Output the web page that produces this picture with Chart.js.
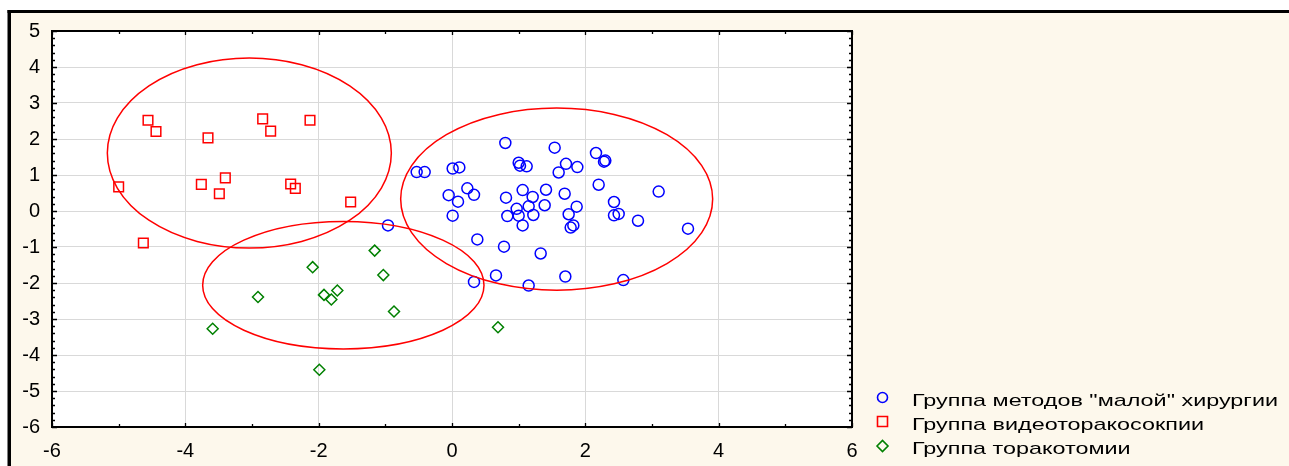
<!DOCTYPE html>
<html>
<head>
<meta charset="utf-8">
<script src="https://cdn.jsdelivr.net/npm/chart.js@4.4.0/dist/chart.umd.min.js"></script>
<style>
    html, body { margin: 0; padding: 0; background: #fff; }
    #wrap { width: 1289px; height: 466px; }
</style>
</head>
<body>
<div id="wrap"><canvas id="scatterChart" width="1289" height="466"></canvas></div>
<script>
// Group names (legend)
const groupNames = [
    'Группа методов "малой" хирургии',
    'Группа видеоторакосокпии',
    'Группа торакотомии'
];

// "малой" хирургии - circles
const blueX = [-0.53, -0.41, 0.01, 0.11, 0.80, 1.00, 1.02, 1.12, 1.54, 1.71, 1.88, 1.60, 2.16, 2.28, 2.30,
    0.23, -0.05, 0.33, 0.09, 0.01, 1.06, 1.41, 1.69, 2.20, 3.10, 0.81, 1.21, 1.15, 1.39, 0.97, 1.87, 2.43,
    0.83, 1.00, 1.22, 1.75, 1.06, 1.82, 1.78, 2.43, 2.50, 2.79, 3.54, -0.96, 0.38, 0.78, 1.33, 0.66, 1.70,
    0.33, 1.15, 2.57];
const blueY = [1.08, 1.08, 1.18, 1.21, 1.89, 1.34, 1.26, 1.24, 1.76, 1.31, 1.22, 1.07, 1.61, 1.37, 1.40,
    0.63, 0.44, 0.45, 0.26, -0.13, 0.58, 0.59, 0.48, 0.73, 0.54, 0.37, 0.39, 0.13, 0.16, 0.06, 0.12, 0.25,
    -0.14, -0.13, -0.11, -0.09, -0.40, -0.40, -0.46, -0.12, -0.08, -0.27, -0.49, -0.40, -0.79, -0.99, -1.18,
    -1.79, -1.82, -1.97, -2.07, -1.92];

// видеоторакоскопии - squares
const redX = [-4.56, -4.44, -3.66, -2.84, -2.72, -2.13, -5.00, -3.76, -3.40, -3.49, -2.42, -2.35, -1.52, -4.63];
const redY = [2.52, 2.21, 2.03, 2.56, 2.22, 2.52, 0.67, 0.74, 0.92, 0.48, 0.75, 0.63, 0.25, -0.89];

// торакотомии - diamonds
const greenX = [-1.16, -2.09, -1.03, -2.91, -1.92, -1.72, -1.81, -0.87, -3.59, -1.99, 0.69];
const greenY = [-1.10, -1.56, -1.78, -2.39, -2.33, -2.21, -2.46, -2.79, -3.27, -4.41, -3.23];

// confidence ellipses (blue, red, green group)
const ellipseCX = [1.57, -3.04, -1.63];
const ellipseCY = [0.33, 1.61, -2.06];
const ellipseRX = [2.34, 2.13, 2.11];
const ellipseRY = [2.53, 2.64, 1.77];

// axis ticks
const xTicks = [-6, -4, -2, 0, 2, 4, 6];
const yTicks = [-6, -5, -4, -3, -2, -1, 0, 1, 2, 3, 4, 5];

const colors = ['#0000ff', '#ff0000', '#008000'];
const styles = ['circle', 'rect', 'rectRot'];
const radii = [5.5, 6.8, 5.5];

function toPoints(xs, ys) {
    return xs.map((x, i) => ({ x: x, y: ys[i] }));
}

const chartPlugin = {
    id: 'statFrame',
    beforeDraw(chart) {
        const ctx = chart.ctx;
        const a = chart.chartArea;
        ctx.save();
        ctx.fillStyle = '#ffffff';
        ctx.fillRect(0, 0, chart.width, chart.height);
        ctx.fillStyle = '#fdf8ec';
        ctx.fillRect(11, 13, chart.width - 11, chart.height - 13);
        ctx.fillStyle = '#000000';
        ctx.fillRect(7.5, 10, 3.5, chart.height - 10);
        ctx.fillRect(7.5, 10, chart.width, 3);
        ctx.fillStyle = '#ffffff';
        ctx.fillRect(a.left, a.top, a.right - a.left, a.bottom - a.top);
        ctx.restore();
    },
    afterDatasetsDraw(chart) {
        const ctx = chart.ctx;
        const a = chart.chartArea;
        const xs = chart.scales.x, ys = chart.scales.y;
        ctx.save();
        ctx.beginPath();
        ctx.rect(a.left, a.top, a.right - a.left, a.bottom - a.top);
        ctx.clip();
        ctx.strokeStyle = '#ff0000';
        ctx.lineWidth = 1.5;
        for (let i = 0; i < ellipseCX.length; i++) {
            const cx = xs.getPixelForValue(ellipseCX[i]);
            const cy = ys.getPixelForValue(ellipseCY[i]);
            const rx = Math.abs(xs.getPixelForValue(ellipseCX[i] + ellipseRX[i]) - cx);
            const ry = Math.abs(ys.getPixelForValue(ellipseCY[i] + ellipseRY[i]) - cy);
            ctx.beginPath();
            ctx.ellipse(cx, cy, rx, ry, 0, 0, Math.PI * 2);
            ctx.stroke();
        }
        ctx.restore();
    },
    afterDraw(chart) {
        const ctx = chart.ctx;
        const a = chart.chartArea;
        const xs = chart.scales.x, ys = chart.scales.y;
        ctx.save();

        // plot frame
        ctx.strokeStyle = '#000000';
        ctx.lineWidth = 2;
        ctx.strokeRect(a.left, a.top, a.right - a.left, a.bottom - a.top);

        // inward ticks
        ctx.lineWidth = 1.3;
        ctx.beginPath();
        for (let v = xs.min; v <= xs.max + 1e-9; v += 1) {
            const px = Math.round(xs.getPixelForValue(v)) + 0.5;
            const len = (Math.round(v) % 2 === 0) ? 4 : 3;
            ctx.moveTo(px, a.bottom); ctx.lineTo(px, a.bottom - len);
            ctx.moveTo(px, a.top); ctx.lineTo(px, a.top + len);
        }
        for (let k = 0; k <= (ys.max - ys.min) * 5; k++) {
            const v = ys.min + k * 0.2;
            const py = Math.round(ys.getPixelForValue(v)) + 0.5;
            const len = (k % 5 === 0) ? 5 : 3;
            ctx.moveTo(a.left, py); ctx.lineTo(a.left + len, py);
            ctx.moveTo(a.right, py); ctx.lineTo(a.right - len, py);
        }
        ctx.stroke();

        // legend
        const markerX = 882.5;
        const markerY = [397.5, 421.5, 446];
        const baseY = [406, 430, 454];
        ctx.font = '17px "Liberation Sans", Arial, sans-serif';
        const sx = 366 / ctx.measureText(groupNames[0]).width;
        for (let i = 0; i < groupNames.length; i++) {
            ctx.lineWidth = 1.6;
            ctx.strokeStyle = colors[i];
            ctx.beginPath();
            const my = markerY[i];
            if (i === 0) {
                ctx.arc(markerX, my, 5, 0, Math.PI * 2);
            } else if (i === 1) {
                ctx.rect(markerX - 5, my - 5, 10, 10);
            } else {
                ctx.moveTo(markerX - 5.5, my); ctx.lineTo(markerX, my - 5.5);
                ctx.lineTo(markerX + 5.5, my); ctx.lineTo(markerX, my + 5.5);
                ctx.closePath();
            }
            ctx.stroke();

            ctx.save();
            ctx.translate(912, baseY[i]);
            ctx.scale(sx, 1);
            ctx.fillStyle = '#000000';
            ctx.textBaseline = 'alphabetic';
            ctx.textAlign = 'left';
            ctx.fillText(groupNames[i], 0, 0);
            ctx.restore();
        }
        ctx.restore();
    }
};

const ctx = document.getElementById('scatterChart').getContext('2d');
const allX = [blueX, redX, greenX];
const allY = [blueY, redY, greenY];

new Chart(ctx, {
    type: 'scatter',
    data: {
        datasets: groupNames.map((name, i) => ({
            label: name,
            data: toPoints(allX[i], allY[i]),
            pointStyle: styles[i],
            pointRadius: radii[i],
            pointBorderWidth: 1.5,
            borderColor: colors[i],
            pointBorderColor: colors[i],
            backgroundColor: 'transparent',
            pointBackgroundColor: 'transparent'
        }))
    },
    options: {
        responsive: false,
        animation: false,
        layout: { padding: { left: 12, top: 31, right: 437, bottom: 0 } },
        plugins: {
            legend: { display: false },
            tooltip: { enabled: false }
        },
        scales: {
            x: {
                type: 'linear',
                min: -6,
                max: 6,
                afterBuildTicks: s => { s.ticks = xTicks.map(v => ({ value: v })); },
                afterFit: s => { s.height = 39; s.paddingLeft = 0; s.paddingRight = 0; },
                grid: { color: '#d9d9d9', lineWidth: 1, drawTicks: false },
                border: { display: false },
                ticks: {
                    padding: 12,
                    color: '#000000',
                    maxRotation: 0,
                    font: { family: '"Liberation Sans", Arial, sans-serif', size: 20 }
                }
            },
            y: {
                type: 'linear',
                min: -6,
                max: 5,
                afterBuildTicks: s => { s.ticks = yTicks.map(v => ({ value: v })); },
                afterFit: s => { s.width = 40; s.paddingTop = 0; s.paddingBottom = 0; },
                grid: { color: '#d9d9d9', lineWidth: 1, drawTicks: false },
                border: { display: false },
                ticks: {
                    padding: 12,
                    color: '#000000',
                    font: { family: '"Liberation Sans", Arial, sans-serif', size: 20 }
                }
            }
        }
    },
    plugins: [chartPlugin]
});
</script>
</body>
</html>
